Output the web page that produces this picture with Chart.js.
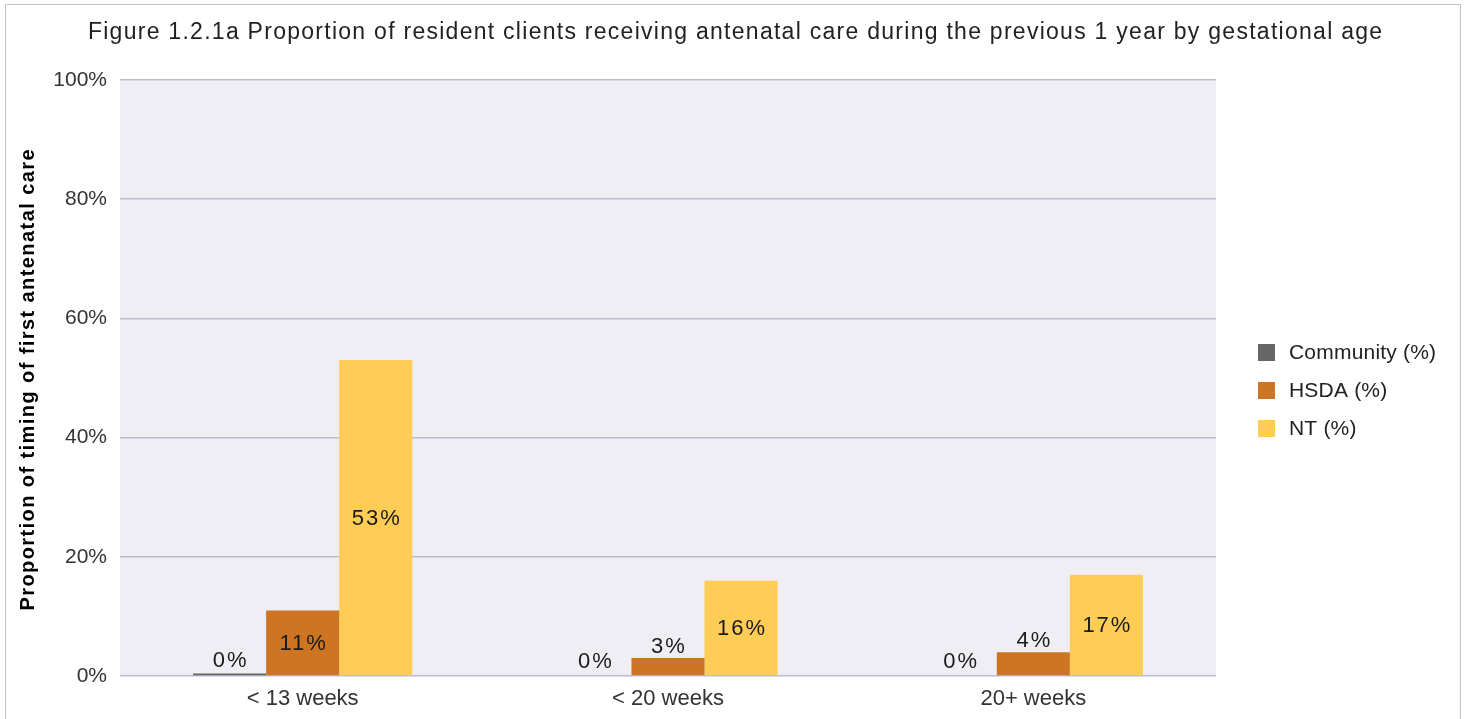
<!DOCTYPE html>
<html><head><meta charset="utf-8">
<script src="https://cdn.jsdelivr.net/npm/chart.js@4.4.0/dist/chart.umd.min.js"></script>
<style>
html,body{margin:0;padding:0;background:#fff;overflow:hidden;}
#wrap{position:absolute;left:0;top:0;width:1467px;height:719px;}
#frame{position:absolute;left:5px;top:4px;width:1456px;height:800px;border:1px solid #c4c4c4;box-sizing:border-box;pointer-events:none;}
</style></head><body>
<div id="wrap"><canvas id="c" width="1467" height="719"></canvas></div>
<div id="frame"></div>
<script>
const titleText = 'Figure 1.2.1a Proportion of resident clients receiving antenatal care during the previous 1 year by gestational age';
const yAxisTitle = 'Proportion of timing of first antenatal care';
const categories = ['< 13 weeks', '< 20 weeks', '20+ weeks'];
const seriesNames = ['Community (%)', 'HSDA (%)', 'NT (%)'];
const communityValues = [0.4, 0, 0];
const hsdaValues = [11, 3, 4];
const ntValues = [53, 16, 17];
const communityLabels = ['0%', '0%', '0%'];
const hsdaLabels = ['11%', '3%', '4%'];
const ntLabels = ['53%', '16%', '17%'];
const yTickValues = [0, 20, 40, 60, 80, 100];
const seriesColors = ['#666666', '#cd7522', '#ffcc55'];

const FONT = '"Liberation Sans", Arial, sans-serif';

function spacedFit(ctx, text, target) {
  ctx.letterSpacing = '0px';
  const w = ctx.measureText(text).width;
  return Math.max(0, (target - w) / (text.length - 1));
}

const plotBg = {
  id: 'plotBg',
  beforeDraw(chart) {
    const {ctx, chartArea: a} = chart;
    ctx.save();
    ctx.fillStyle = '#efeef4';
    ctx.fillRect(a.left, a.top, a.right - a.left, a.bottom - a.top);
    ctx.restore();
  }
};

const titleDraw = {
  id: 'titleDraw',
  afterDraw(chart) {
    const ctx = chart.ctx;
    const a = chart.chartArea;
    ctx.save();
    // main title
    ctx.font = '23px ' + FONT;
    const sp = spacedFit(ctx, titleText, 1294);
    ctx.letterSpacing = sp.toFixed(2) + 'px';
    ctx.fillStyle = '#222';
    ctx.textAlign = 'center';
    ctx.textBaseline = 'middle';
    ctx.fillText(titleText, 735 + sp / 2, 33);
    // y axis title
    ctx.font = 'bold 20px ' + FONT;
    const sp2 = spacedFit(ctx, yAxisTitle, 461);
    ctx.letterSpacing = sp2.toFixed(2) + 'px';
    ctx.fillStyle = '#000';
    ctx.translate(28, (a.top + a.bottom) / 2 + 2);
    ctx.rotate(-Math.PI / 2);
    ctx.fillText(yAxisTitle, sp2 / 2, 0);
    ctx.restore();
  }
};

const legendDraw = {
  id: 'legendDraw',
  afterDraw(chart) {
    const ctx = chart.ctx;
    ctx.save();
    ctx.font = '21px ' + FONT;
    ctx.letterSpacing = '0.2px';
    ctx.textBaseline = 'middle';
    ctx.textAlign = 'left';
    chart.data.datasets.forEach((ds, i) => {
      const cy = 352 + i * 38;
      ctx.fillStyle = ds.backgroundColor;
      ctx.fillRect(1258, cy - 8, 17, 17);
      ctx.fillStyle = '#222';
      ctx.fillText(ds.label, 1289, cy + 1);
    });
    ctx.restore();
  }
};

const valueLabels = {
  id: 'valueLabels',
  afterDatasetsDraw(chart) {
    const ctx = chart.ctx;
    ctx.save();
    ctx.font = '22px ' + FONT;
    ctx.letterSpacing = '2px';
    ctx.fillStyle = '#1a1a1a';
    ctx.textAlign = 'center';
    ctx.textBaseline = 'middle';
    chart.data.datasets.forEach((ds, di) => {
      const meta = chart.getDatasetMeta(di);
      meta.data.forEach((bar, i) => {
        const txt = ds.valueLabels[i];
        const h = bar.base - bar.y;
        let y;
        if (h > 40) y = (bar.y + bar.base) / 2 + 1;
        else y = Math.min(bar.y, bar.base - 3) - 11;
        ctx.fillText(txt, bar.x + 1, y);
      });
    });
    ctx.restore();
  }
};

new Chart(document.getElementById('c'), {
  type: 'bar',
  data: {
    labels: categories,
    datasets: [
      {label: seriesNames[0], data: communityValues, backgroundColor: seriesColors[0], valueLabels: communityLabels},
      {label: seriesNames[1], data: hsdaValues, backgroundColor: seriesColors[1], valueLabels: hsdaLabels},
      {label: seriesNames[2], data: ntValues, backgroundColor: seriesColors[2], valueLabels: ntLabels}
    ]
  },
  options: {
    responsive: false,
    animation: false,
    events: [],
    layout: {padding: {left: 0, right: 251, top: 80, bottom: 0}},
    datasets: {bar: {categoryPercentage: 0.6, barPercentage: 1.0, borderWidth: 0}},
    plugins: {legend: {display: false}, title: {display: false}, tooltip: {enabled: false}},
    scales: {
      x: {
        grid: {display: false, drawTicks: false},
        border: {display: false},
        ticks: {font: {family: FONT, size: 22}, color: '#333', padding: 10},
        afterFit(s) { s.height = 43; }
      },
      y: {
        min: 0, max: 100,
        afterBuildTicks(s) { s.ticks = yTickValues.map(v => ({value: v})); },
        ticks: {font: {family: FONT, size: 21}, color: '#333', padding: 13, callback: v => v + '%'},
        grid: {color: '#bcbbd3', lineWidth: 1.5, drawTicks: false},
        border: {display: false},
        title: {display: false},
        afterFit(s) { s.width = 120; }
      }
    }
  },
  plugins: [plotBg, valueLabels, titleDraw, legendDraw]
});
</script>
</body></html>
